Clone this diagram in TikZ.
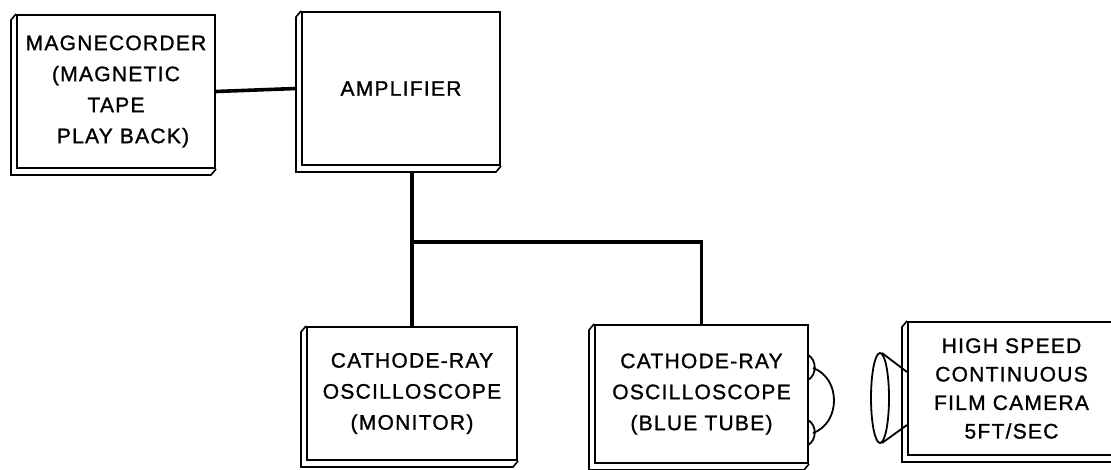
\documentclass[tikz,border=0pt]{standalone}
\usepackage{fontspec}
\setmainfont[LetterSpace=6,FakeBold=1.2]{Liberation Sans}

% depth faces of a unit, seen from lower left
\newcommand{\unitdepth}[1]{%
  \draw[line width=1.6pt] (#1.north west) -- ++(-5,6)
    -- ([shift={(-5,6)}]#1.south west) -- ([shift={(-5,6)}]#1.south east)
    -- (#1.south east);}

\begin{document}
\begin{tikzpicture}[x=1pt,y=-1pt,
  unit/.style={draw, line width=2pt, inner sep=0pt, align=center,
    font=\fontsize{21}{31}\selectfont},
  wire/.style={line width=3.6pt}]

\path[use as bounding box, clip] (0,0) rectangle (1111,470);

% units
\node[unit, minimum width=198pt, minimum height=153pt] (mag) at (116,91.5)
  {MAGNECORDER\\(MAGNETIC\\TAPE\\\hspace*{14pt}PLAY BACK)};
\node[unit, minimum width=198pt, minimum height=153pt] (amp) at (401,88.5)
  {AMPLIFIER};
\node[unit, minimum width=210pt, minimum height=133pt] (mon) at (412,393.5)
  {CATHODE-RAY\\OSCILLOSCOPE\\(MONITOR)};
\node[unit, minimum width=213pt, minimum height=138pt] (blue) at (701.5,394)
  {CATHODE-RAY\\OSCILLOSCOPE\\(BLUE TUBE)};
\node[unit, minimum width=207pt, minimum height=133pt,
  font=\fontsize{21}{28.5}\selectfont] (cam) at (1011.5,388.5)
  {HIGH SPEED\\CONTINUOUS\\FILM CAMERA\\5FT/SEC};

\unitdepth{mag}
\unitdepth{amp}
\unitdepth{mon}
\unitdepth{blue}
\unitdepth{cam}

% tube face
\draw[line width=1.8pt] (808,355) .. controls (817,360) and (817,375) .. (808,380);
\draw[line width=1.8pt] (813,368) .. controls (841,378) and (841,423) .. (813,433);
\draw[line width=1.8pt] (808,420) .. controls (817,425) and (817,440) .. (808,445);

% camera lens
\draw[line width=1.8pt] (880,398) ellipse [x radius=9, y radius=45];
\draw[line width=1.8pt] (882,353) -- (cam.west |- 0,372);
\draw[line width=1.8pt] (882,443) -- (cam.west |- 0,425);

% wiring
\coordinate (split) at (412,242);
\draw[wire] (mag.east) -- ([xshift=-5pt]amp.west);
\draw[wire] ([yshift=-6pt]amp.south -| split) -- (mon.north);
\draw[wire] (split) -| (blue.north);
\end{tikzpicture}
\end{document}
